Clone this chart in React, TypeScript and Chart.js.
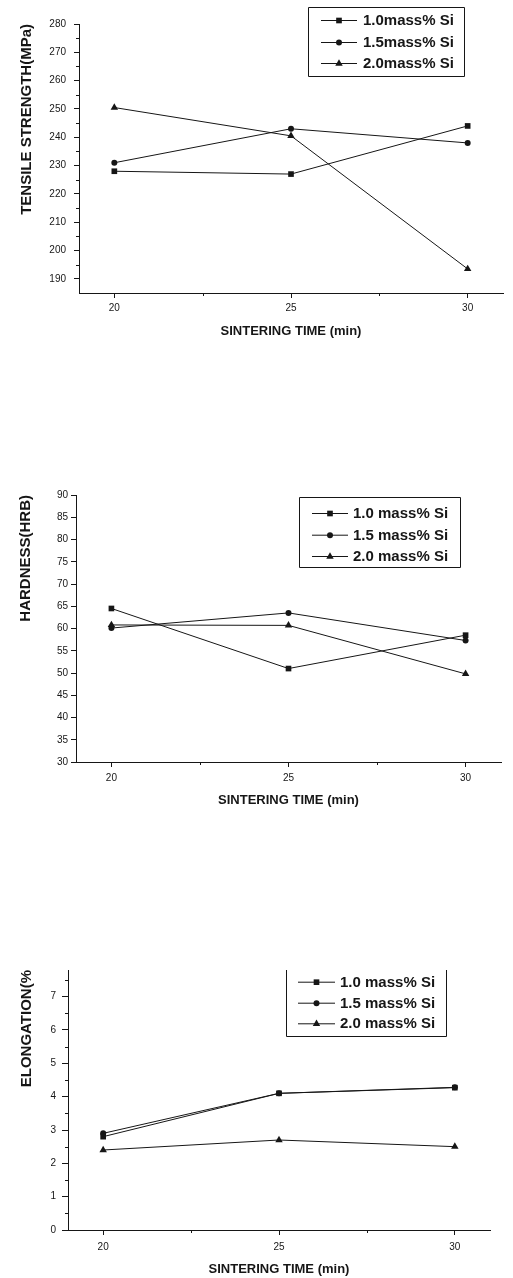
import React, { useEffect, useRef } from 'react';
import { Chart, registerables } from 'chart.js';

Chart.register(...registerables);

// ---------------- data ----------------
const SINTERING_TIME = [20, 25, 30];
const X_TICKS = [20, 25, 30];
const X_MINOR = [22.5, 27.5];

const LABELS_TENSILE = ['1.0mass% Si', '1.5mass% Si', '2.0mass% Si'];
const LABELS_OTHER = ['1.0 mass% Si', '1.5 mass% Si', '2.0 mass% Si'];
const POINT_STYLES = ['rect', 'circle', 'triangle'];

const TENSILE_10 = [228, 227, 244];
const TENSILE_15 = [231, 243, 238];
const TENSILE_20 = [250.5, 240.5, 193.5];
const TENSILE_TICKS = [190, 200, 210, 220, 230, 240, 250, 260, 270, 280];
const TENSILE_MINOR = [195, 205, 215, 225, 235, 245, 255, 265, 275];

const HARDNESS_10 = [64.5, 51, 58.5];
const HARDNESS_15 = [60.1, 63.5, 57.3];
const HARDNESS_20 = [60.8, 60.7, 49.8];
const HARDNESS_TICKS = [30, 35, 40, 45, 50, 55, 60, 65, 70, 75, 80, 85, 90];
const HARDNESS_MINOR: number[] = [];

const ELONG_10 = [2.8, 4.1, 4.27];
const ELONG_15 = [2.9, 4.1, 4.28];
const ELONG_20 = [2.4, 2.7, 2.5];
const ELONG_TICKS = [0, 1, 2, 3, 4, 5, 6, 7];
const ELONG_MINOR = [0.5, 1.5, 2.5, 3.5, 4.5, 5.5, 6.5, 7.5];

// ---------------- styling ----------------
const INK = '#161616';
const SANS = "'Liberation Sans', Arial, Helvetica, sans-serif";
const TICK_FAMILY = "'Liberation Sans Narrow', 'Liberation Sans', Arial, sans-serif";

function drawMarker(ctx: CanvasRenderingContext2D, style: string, x: number, y: number, r: number) {
  ctx.beginPath();
  if (style === 'rect') {
    const s = r * Math.SQRT1_2;
    ctx.rect(x - s, y - s, 2 * s, 2 * s);
  } else if (style === 'circle') {
    ctx.arc(x, y, r, 0, Math.PI * 2);
  } else {
    const h = (r * 3) / 2;
    const side = (r * 3) / Math.sqrt(3);
    ctx.moveTo(x - side / 2, y + h / 3);
    ctx.lineTo(x + side / 2, y + h / 3);
    ctx.lineTo(x, y - (2 * h) / 3);
    ctx.closePath();
  }
  ctx.fill();
}

const boxLegend = {
  id: 'boxLegend',
  afterDraw(chart: any, _args: any, opts: any) {
    const { ctx } = chart;
    const [x1, y1, x2, y2] = opts.box;
    ctx.save();
    ctx.strokeStyle = INK;
    ctx.fillStyle = INK;
    ctx.lineWidth = 1;
    ctx.beginPath();
    if (opts.drawTop) {
      ctx.rect(x1 + 0.5, y1 + 0.5, x2 - x1, y2 - y1);
    } else {
      ctx.moveTo(x1 + 0.5, y1);
      ctx.lineTo(x1 + 0.5, y2 + 0.5);
      ctx.lineTo(x2 + 0.5, y2 + 0.5);
      ctx.lineTo(x2 + 0.5, y1);
    }
    ctx.stroke();
    ctx.font = opts.font;
    ctx.textBaseline = 'middle';
    ctx.textAlign = 'left';
    chart.data.datasets.forEach((ds: any, i: number) => {
      const y = opts.rows[i];
      ctx.beginPath();
      ctx.moveTo(opts.lineX[0], y + 0.5);
      ctx.lineTo(opts.lineX[1], y + 0.5);
      ctx.stroke();
      drawMarker(ctx, ds.pointStyle, (opts.lineX[0] + opts.lineX[1]) / 2, y + 0.5, ds.pointRadius);
      ctx.fillText(ds.label, opts.textX, y + 1);
    });
    ctx.restore();
  },
};

const minorTicks = {
  id: 'minorTicks',
  afterDraw(chart: any, _args: any, opts: any) {
    const { ctx } = chart;
    ctx.save();
    ctx.strokeStyle = INK;
    ctx.lineWidth = 1;
    (opts.items || []).forEach((item: any) => {
      const s = chart.scales[item.id];
      item.values.forEach((v: number) => {
        const p = Math.round(s.getPixelForValue(v)) + 0.5;
        ctx.beginPath();
        if (s.isHorizontal()) {
          ctx.moveTo(p, s.top);
          ctx.lineTo(p, s.top + item.len);
        } else {
          ctx.moveTo(s.right - item.len, p);
          ctx.lineTo(s.right, p);
        }
        ctx.stroke();
      });
    });
    ctx.restore();
  },
};

type Spec = {
  top: number;
  height: number;
  labels: string[];
  series: number[][];
  yMin: number;
  yMax: number;
  yTicks: number[];
  yMinor: number[];
  yTitle: string;
  padTop: number;
  padRight: number;
  yWidth: number;
  xHeight: number;
  yTitlePad: number;
  yTickLen: number;
  yTickPad: number;
  xTickPad: number;
  legendBox: number[];
  legendRows: number[];
  legendLineX: number[];
  legendTextX: number;
  legendTop: boolean;
};

function makeConfig(s: Spec): any {
  return {
    type: 'line',
    data: {
      datasets: s.series.map((arr, i) => ({
        label: s.labels[i],
        data: SINTERING_TIME.map((x, j) => ({ x, y: arr[j] })),
        borderColor: INK,
        backgroundColor: INK,
        borderWidth: 1,
        pointStyle: POINT_STYLES[i],
        pointRadius: i === 0 ? 4 : i === 1 ? 3 : 4.3,
        pointBorderWidth: 0,
        pointBackgroundColor: INK,
        tension: 0,
        clip: false,
      })),
    },
    options: {
      responsive: false,
      animation: false,
      events: [],
      layout: { padding: { top: s.padTop, right: s.padRight, left: 0, bottom: 0 } },
      plugins: {
        legend: { display: false },
        tooltip: { enabled: false },
        boxLegend: {
          box: s.legendBox,
          rows: s.legendRows,
          lineX: s.legendLineX,
          textX: s.legendTextX,
          drawTop: s.legendTop,
          font: `bold 15px ${SANS}`,
        },
        minorTicks: {
          items: [
            { id: 'x', values: X_MINOR, len: 3 },
            { id: 'y', values: s.yMinor, len: 3 },
          ],
        },
      },
      scales: {
        x: {
          type: 'linear',
          min: 19,
          max: 31,
          afterBuildTicks: (sc: any) => {
            sc.ticks = X_TICKS.map((v) => ({ value: v }));
          },
          afterFit: (sc: any) => {
            sc.height = s.xHeight;
          },
          border: { display: true, color: INK, width: 1 },
          grid: { display: true, drawOnChartArea: false, drawTicks: true, tickLength: 5, tickColor: INK, color: INK },
          ticks: {
            autoSkip: false,
            maxRotation: 0,
            padding: s.xTickPad,
            color: INK,
            font: { family: TICK_FAMILY, size: 10 },
          },
          title: {
            display: true,
            text: 'SINTERING TIME (min)',
            color: INK,
            font: { family: SANS, size: 13, weight: 'bold' },
            padding: { top: 0, bottom: 0 },
          },
        },
        y: {
          type: 'linear',
          min: s.yMin,
          max: s.yMax,
          afterBuildTicks: (sc: any) => {
            sc.ticks = s.yTicks.map((v) => ({ value: v }));
          },
          afterFit: (sc: any) => {
            sc.width = s.yWidth;
          },
          border: { display: true, color: INK, width: 1 },
          grid: { display: true, drawOnChartArea: false, drawTicks: true, tickLength: s.yTickLen, tickColor: INK, color: INK },
          ticks: {
            autoSkip: false,
            padding: s.yTickPad,
            color: INK,
            font: { family: TICK_FAMILY, size: 10 },
          },
          title: {
            display: true,
            text: s.yTitle,
            align: 'end',
            color: INK,
            font: { family: SANS, size: 15, weight: 'bold' },
            padding: { top: s.yTitlePad, bottom: 0 },
          },
        },
      },
    },
    plugins: [boxLegend, minorTicks],
  };
}

const SPECS: Spec[] = [
  {
    top: 0,
    height: 339,
    labels: LABELS_TENSILE,
    series: [TENSILE_10, TENSILE_15, TENSILE_20],
    yMin: 185,
    yMax: 280,
    yTicks: TENSILE_TICKS,
    yMinor: TENSILE_MINOR,
    yTitle: 'TENSILE STRENGTH(MPa)',
    padTop: 24,
    padRight: 10,
    yWidth: 79,
    xHeight: 46,
    yTitlePad: 18,
    yTickLen: 5,
    yTickPad: 8,
    xTickPad: 4,
    legendBox: [308, 7, 464, 76],
    legendRows: [20, 42, 63],
    legendLineX: [321, 357],
    legendTextX: 363,
    legendTop: true,
  },
  {
    top: 470,
    height: 338,
    labels: LABELS_OTHER,
    series: [HARDNESS_10, HARDNESS_15, HARDNESS_20],
    yMin: 30,
    yMax: 90,
    yTicks: HARDNESS_TICKS,
    yMinor: HARDNESS_MINOR,
    yTitle: 'HARDNESS(HRB)',
    padTop: 25,
    padRight: 12,
    yWidth: 76,
    xHeight: 46,
    yTitlePad: 17,
    yTickLen: 5,
    yTickPad: 3,
    xTickPad: 5,
    legendBox: [299, 27, 460, 97],
    legendRows: [43, 64.7, 86],
    legendLineX: [312, 348],
    legendTextX: 353,
    legendTop: true,
  },
  {
    top: 940,
    height: 337,
    labels: LABELS_OTHER,
    series: [ELONG_10, ELONG_15, ELONG_20],
    yMin: 0,
    yMax: 7.8,
    yTicks: ELONG_TICKS,
    yMinor: ELONG_MINOR,
    yTitle: 'ELONGATION(%',
    padTop: 30,
    padRight: 23,
    yWidth: 68,
    xHeight: 47,
    yTitlePad: 18,
    yTickLen: 6,
    yTickPad: 6,
    xTickPad: 6,
    legendBox: [286, 30, 446, 96],
    legendRows: [41.7, 62.7, 83.3],
    legendLineX: [298, 335],
    legendTextX: 340,
    legendTop: false,
  },
];

function LineChart({ spec }: { spec: Spec }) {
  const ref = useRef<HTMLCanvasElement | null>(null);
  useEffect(() => {
    if (!ref.current) return;
    const chart = new Chart(ref.current, makeConfig(spec));
    return () => chart.destroy();
  }, [spec]);
  return (
    <canvas
      ref={ref}
      width={513}
      height={spec.height}
      style={{ position: 'absolute', left: 0, top: spec.top, width: 513, height: spec.height, display: 'block' }}
    />
  );
}

export default function App() {
  return (
    <div style={{ position: 'absolute', left: 0, top: 0, width: 513, height: 1278, background: '#fff' }}>
      {SPECS.map((s, i) => (
        <LineChart key={i} spec={s} />
      ))}
    </div>
  );
}
